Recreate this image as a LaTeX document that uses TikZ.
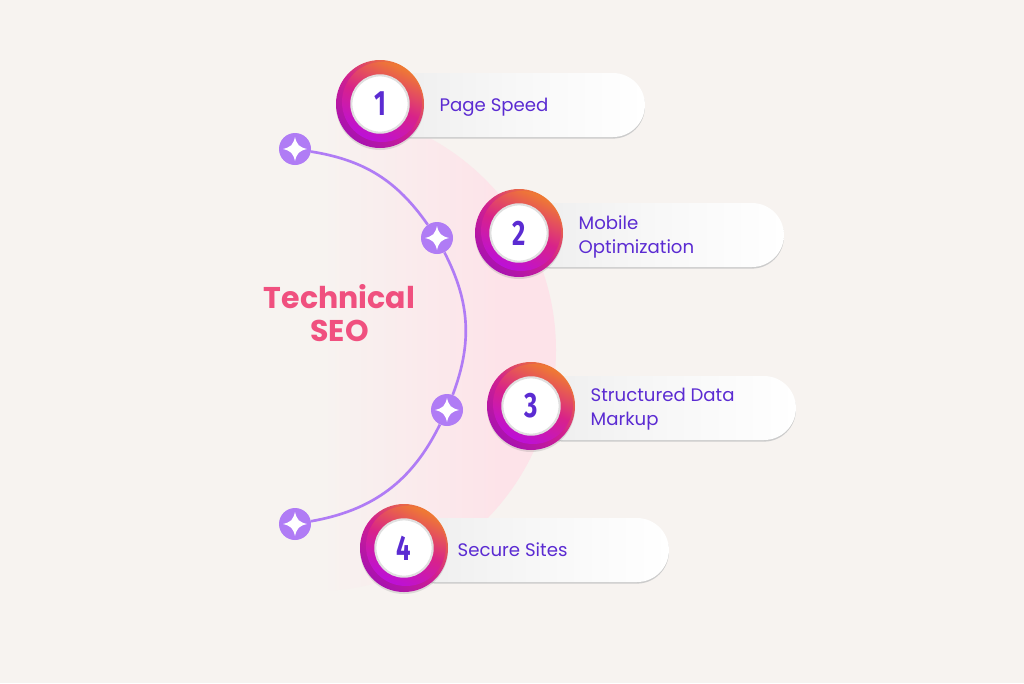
\documentclass[tikz,border=0pt]{standalone}
\usepackage{fontspec}
\setmainfont{Poppins}
\newfontfamily\digitfont{Fira Sans}
\usetikzlibrary{shadows}
\definecolor{paperbg}{HTML}{F7F3F0}
\definecolor{pinkarea}{HTML}{FDE3E9}
\definecolor{arcviolet}{HTML}{B07CF5}
\definecolor{labelviolet}{HTML}{5B2BD2}
\definecolor{titlepink}{HTML}{F0507F}
\definecolor{ringorange}{HTML}{EF7A33}
\definecolor{ringmagenta}{HTML}{D8228A}
\definecolor{ringpurple}{HTML}{BC10D8}
\definecolor{ringdark}{HTML}{A812B0}
\tikzset{
  pill/.style={rectangle, rounded corners=24pt, minimum width=198.5pt, minimum height=48pt,
    left color=black!7, right color=white, middle color=white!97!black, anchor=west,
    general shadow={fill=black!20, shadow yshift=-1.2pt}},
  ringouter/.style={circle, inner sep=0pt, minimum size=66pt, top color=ringorange, bottom color=ringdark,
    middle color=ringmagenta!85!ringdark, shading angle=-40,
    drop shadow={opacity=.22, shadow xshift=0pt, shadow yshift=-1.5pt}},
  ringinner/.style={circle, inner sep=0pt, minimum size=60pt, top color=ringorange, bottom color=ringpurple,
    middle color=ringmagenta, shading angle=-25},
  disc/.style={circle, inner sep=0pt, minimum size=43pt, fill=white, draw=black!12, line width=1.6pt,
    text=labelviolet, font=\digitfont\bfseries\fontsize{24}{24}\selectfont},
  itemlabel/.style={anchor=west, align=left, text=labelviolet, font=\fontsize{13.6}{18}\selectfont},
  dot/.style={circle, inner sep=0pt, minimum size=24pt, fill=arcviolet},
  sparkle/.style={fill=white}
}
\newcommand{\drawsparkle}[1]{
  \fill[sparkle, shift={(#1)}] (0,-12) .. controls (2,-4) and (4,-2) .. (12,0)
    .. controls (4,2) and (2,4) .. (0,12) .. controls (-2,4) and (-4,2) .. (-12,0)
    .. controls (-4,-2) and (-2,-4) .. (0,-12) -- cycle;
}
\newcommand{\slimdigit}[1]{\scalebox{.8}[1.1]{#1}}
\begin{document}
\begin{tikzpicture}[x=0.75pt,y=-0.75pt]
  \fill[paperbg] (0,0) rectangle (1024,683);
  % pink half disc behind the arc
  \begin{scope}
    \clip (315,350) circle[radius=241];
    \shade[left color=paperbg, right color=pinkarea] (322,100) rectangle (500,620);
    \fill[pinkarea] (499,100) rectangle (560,620);
  \end{scope}

  \node[dot] (dotA) at (295,149) {};
  \node[dot] (dotB) at (437,238) {};
  \node[dot] (dotC) at (447,410) {};
  \node[dot] (dotD) at (295,524) {};
  \draw[arcviolet, line width=2pt] (dotA) to[bend left=23] (dotB);
  \draw[arcviolet, line width=2pt] (dotB) to[bend left=24] (dotC);
  \draw[arcviolet, line width=2pt] (dotC) to[bend left=27] (dotD);
  \drawsparkle{dotA}
  \drawsparkle{dotB}
  \drawsparkle{dotC}
  \drawsparkle{dotD}

  \node[text=titlepink, align=center, font=\bfseries\fontsize{22.5}{25}\selectfont] (title) at (339.5,313) {Technical\\SEO};

  \node[pill] (pillA) at (380,105) {};
  \node[pill] (pillB) at (519,235) {};
  \node[pill] (pillC) at (531,408) {};
  \node[pill] (pillD) at (404,550) {};

  \node[ringouter] (ringA) at (380,104) {};
  \node[ringouter] (ringB) at (519,233) {};
  \node[ringouter] (ringC) at (531,406) {};
  \node[ringouter] (ringD) at (404,548) {};
  \node[ringinner] at (382,102) {};
  \node[ringinner] at (521,231) {};
  \node[ringinner] at (533,404) {};
  \node[ringinner] at (406,546) {};
  \node[disc] (discA) at (380,104) {\slimdigit{1}};
  \node[disc] (discB) at (519,233) {\slimdigit{2}};
  \node[disc] (discC) at (531,406) {\slimdigit{3}};
  \node[disc] (discD) at (404,548) {\slimdigit{4}};

  \node[itemlabel] (textA) at (435,107) {Page Speed};
  \node[itemlabel] (textB) at (574,237) {Mobile\\Optimization};
  \node[itemlabel] (textC) at (586,409) {Structured Data\\Markup};
  \node[itemlabel] (textD) at (453,549.5) {Secure Sites};
\end{tikzpicture}
\end{document}
